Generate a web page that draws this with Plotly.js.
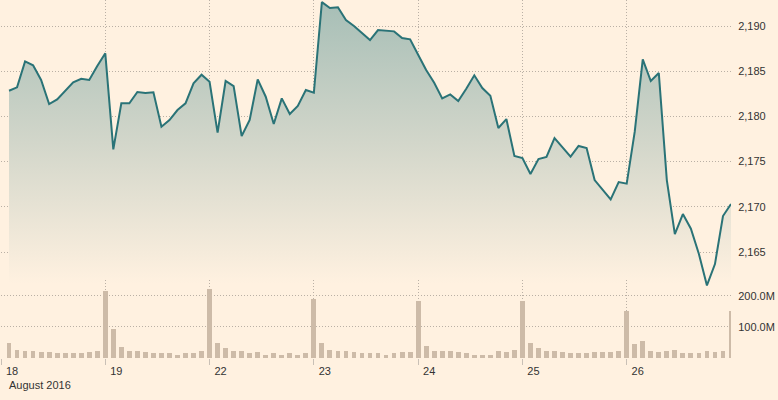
<!DOCTYPE html>
<html>
<head>
<meta charset="utf-8">
<script src="https://cdn.plot.ly/plotly-3.0.1.min.js"></script>
<style>html,body{margin:0;padding:0;background:#fff1e0;}#chart{width:778px;height:400px;}</style>
</head>
<body>
<div id="chart"></div>
<script>
// Trading sessions (August 2016)
const sessions = ['18', '19', '22', '23', '24', '25', '26'];
const monthLabel = 'August 2016';

// Half-hourly index level per session
const price18 = [2182.84, 2183.22, 2186.09, 2185.65, 2184.03, 2181.37, 2181.89, 2182.84, 2183.77, 2184.17, 2184.03, 2185.58];
const price19 = [2186.98, 2176.36, 2181.45, 2181.45, 2182.70, 2182.59, 2182.67, 2178.86, 2179.60, 2180.71, 2181.45, 2183.66, 2184.61];
const price22 = [2183.84, 2178.20, 2183.92, 2183.36, 2177.83, 2179.60, 2184.10, 2182.18, 2179.16, 2182.00, 2180.27, 2181.15, 2182.92];
const price23 = [2182.62, 2192.65, 2191.99, 2192.07, 2190.66, 2190.00, 2189.26, 2188.45, 2189.56, 2189.52, 2189.41, 2188.67, 2188.53];
const price24 = [2186.83, 2185.13, 2183.73, 2182.00, 2182.44, 2181.70, 2183.07, 2184.55, 2183.14, 2182.29, 2178.72, 2179.71, 2175.62];
const price25 = [2175.40, 2173.63, 2175.29, 2175.51, 2177.61, 2176.58, 2175.55, 2176.73, 2176.50, 2172.96, 2171.86, 2170.83, 2172.74];
const price26 = [2172.56, 2178.31, 2186.31, 2183.92, 2184.80, 2172.96, 2166.99, 2169.20, 2167.58, 2164.78, 2161.30, 2163.67, 2168.98, 2170.31];

// Half-hourly volume (millions) per session
const vol18 = [47, 27, 24, 21, 18, 18, 15, 15, 15, 15, 18, 21];
const vol19 = [215, 92, 34, 24, 21, 18, 15, 15, 15, 11, 15, 15, 21];
const vol22 = [224, 47, 31, 21, 21, 15, 18, 11, 15, 11, 15, 11, 15];
const vol23 = [190, 47, 27, 21, 21, 18, 15, 15, 15, 11, 15, 18, 18];
const vol24 = [185, 40, 24, 24, 21, 18, 15, 11, 11, 11, 21, 18, 27];
const vol25 = [185, 47, 31, 24, 24, 18, 15, 15, 15, 18, 18, 18, 21];
const vol26 = [153, 44, 56, 24, 18, 24, 27, 15, 15, 15, 21, 18, 24, 153];

// Axis tick labels
const priceTicks = [2165, 2170, 2175, 2180, 2185, 2190];
const priceTickText = ['2,165', '2,170', '2,175', '2,180', '2,185', '2,190'];
const volTicks = [100, 200];
const volTickText = ['100.0M', '200.0M'];

// ---- build series ----
const slotsPerSession = 13;
const firstSlot = 1; // series begins one slot into the first session
const price = [].concat(price18, price19, price22, price23, price24, price25, price26);
const volume = [].concat(vol18, vol19, vol22, vol23, vol24, vol25, vol26).map(v => v * 1e6);
const x = price.map((_, i) => i + firstSlot);
const sessionStarts = sessions.map((_, i) => i * slotsPerSession);
const lastX = x[x.length - 1];

const bg = '#fff1e0';
const gridColor = '#bab0a5';
const gridDash = '1px,2px';
const textColor = '#333333';
const font = {family: 'Arial, "Liberation Sans", sans-serif', size: 11, color: textColor};

const traces = [
  {
    type: 'scatter', mode: 'lines', x: x, y: price, xaxis: 'x', yaxis: 'y',
    line: {color: '#2a7377', width: 2},
    fill: 'tozeroy',
    fillgradient: {
      type: 'vertical',
      start: 2161.5, stop: 2192.9,
      colorscale: [[0, 'rgba(255,241,224,1)'], [0.5, 'rgb(210,214,202)'], [1, 'rgb(166,190,182)']]
    },
    hoverinfo: 'skip'
  },
  {
    type: 'bar', x: x, y: volume, xaxis: 'x', yaxis: 'y2',
    marker: {color: '#cdbba8', line: {width: 0}},
    width: 0.6,
    hoverinfo: 'skip'
  }
];

const layout = {
  width: 778, height: 400,
  margin: {l: 1, r: 47, t: 0, b: 42},
  paper_bgcolor: bg, plot_bgcolor: 'rgba(0,0,0,0)',
  showlegend: false,
  font: font,
  bargap: 0,
  xaxis: {
    range: [0, lastX], anchor: 'y2',
    tickvals: sessionStarts, ticktext: sessions,
    showgrid: true, gridcolor: gridColor, griddash: gridDash, gridwidth: 1,
    zeroline: false, showline: false,
    ticks: 'outside', ticklen: 6, tickcolor: '#c9c0b6', tickwidth: 1,
    ticklabelshift: 11, ticklabelstandoff: -3,
    tickfont: font
  },
  yaxis: {
    domain: [0.19, 1], range: [2160.8, 2192.88], side: 'right', anchor: 'x',
    tickvals: priceTicks, ticktext: priceTickText,
    showgrid: true, gridcolor: gridColor, griddash: gridDash, gridwidth: 1,
    zeroline: false, showline: false,
    ticks: 'outside', ticklen: 4, tickcolor: 'rgba(0,0,0,0)',
    tickfont: font
  },
  yaxis2: {
    domain: [0, 0.2165], range: [0, 250e6], side: 'right', anchor: 'x',
    tickvals: volTicks.map(v => v * 1e6), ticktext: volTickText,
    showgrid: true, gridcolor: gridColor, griddash: gridDash, gridwidth: 1,
    zeroline: false, showline: false,
    ticks: 'outside', ticklen: 4, tickcolor: 'rgba(0,0,0,0)',
    tickfont: font
  },
  annotations: [{
    text: monthLabel, xref: 'paper', yref: 'paper',
    x: 0.008, y: -0.075, xanchor: 'left', yanchor: 'middle',
    showarrow: false, font: font
  }]
};

Plotly.newPlot('chart', traces, layout, {displayModeBar: false, staticPlot: true});
</script>
</body>
</html>
